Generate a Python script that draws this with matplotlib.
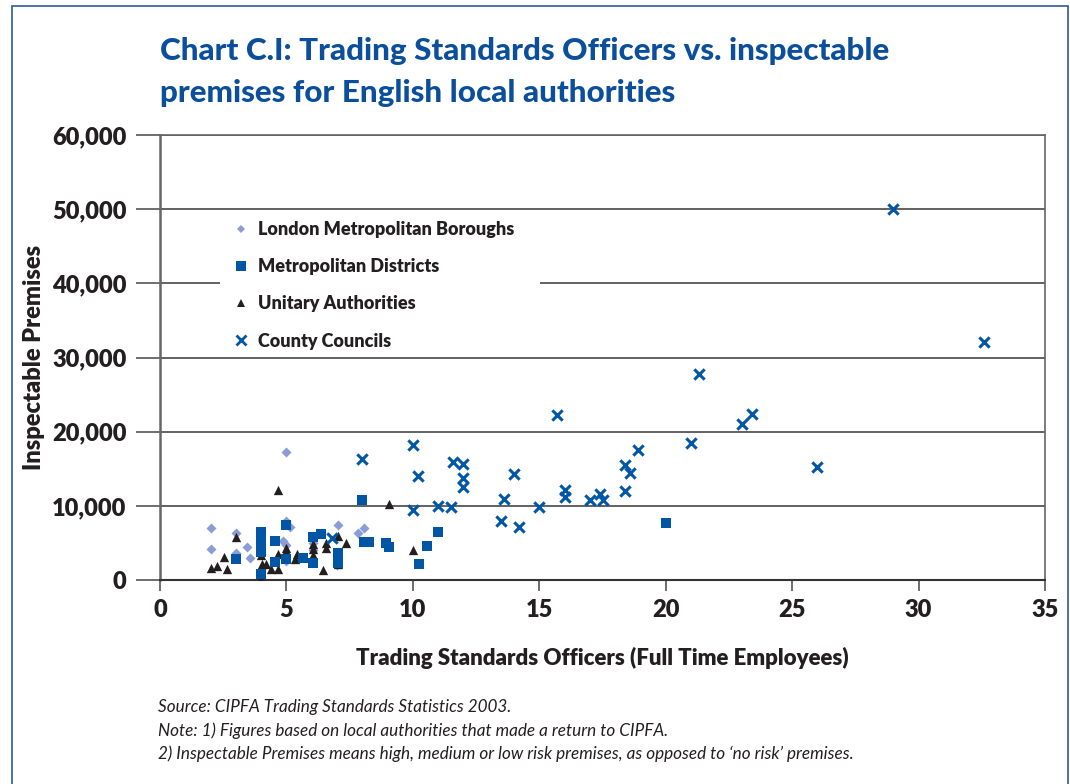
import matplotlib
matplotlib.use("Agg")
import matplotlib.pyplot as plt
from matplotlib.patches import Rectangle
from matplotlib.lines import Line2D

plt.rcParams['font.family'] = ['Lato', 'DejaVu Sans']

# London Metropolitan Boroughs
lon_x = [2.0, 2.0, 3.0, 3.0, 3.45, 3.55, 5.0, 5.0, 5.15, 4.85, 5.0, 5.0, 6.05, 6.05, 7.05, 7.85, 8.05, 4.0, 7.0]
lon_y = [6950, 4200, 6350, 3600, 4450, 3000, 17250, 7900, 7150, 5300, 4700, 2500, 4950, 4100, 7400, 6400, 6950, 3500, 2000]

# Metropolitan Districts
met_x = [4.0, 4.0, 4.0, 4.0, 4.0, 3.0, 4.55, 4.55, 5.0, 5.0, 5.65, 6.05, 6.35, 6.05, 7.05, 7.05,
         8.0, 8.05, 8.25, 8.95, 9.05, 10.55, 11.0, 10.25, 20.0]
met_y = [6500, 5700, 4300, 3800, 750, 2800, 5300, 2450, 7350, 2800, 2900, 5750, 6250, 2350, 3600, 2300,
         10800, 5150, 5150, 5050, 4500, 4600, 6500, 2200, 7700]

# Unitary Authorities
uni_x = [2.0, 2.25, 2.55, 2.65, 3.0, 4.0, 4.05, 4.2, 4.4, 4.65, 4.65, 4.65, 5.0, 5.0, 5.4, 5.35,
         6.05, 6.05, 6.05, 6.45, 6.55, 6.55, 7.05, 7.35, 7.05, 9.05, 10.0, 4.0, 5.0]
uni_y = [1600, 1950, 3050, 1550, 5750, 3400, 2150, 2150, 1450, 1450, 3500, 12150, 4250, 3850, 3550, 2800,
         4850, 4150, 3400, 1300, 5000, 4250, 5950, 5050, 2100, 10250, 4050, 300, 3000]

# County Councils
cc_x = [29.0, 32.6, 21.3, 23.4, 23.0, 21.0, 26.0, 15.7, 18.9, 18.4, 18.6, 18.4, 17.0, 17.4, 17.5,
        16.0, 16.0, 15.0, 14.2, 14.0, 13.6, 13.5, 12.0, 11.6, 12.0, 12.0, 11.5, 11.0, 10.0, 10.2,
        10.0, 8.0, 6.8]
cc_y = [50000, 32100, 27800, 22400, 21100, 18500, 15200, 22200, 17500, 15500, 14400, 12000, 10800, 11600, 10800,
        12200, 11200, 9800, 7150, 14300, 10900, 8000, 15700, 15900, 13700, 12600, 9850, 10000, 9500, 14000,
        18150, 16300, 5600]

x_ticks = [0, 5, 10, 15, 20, 25, 30, 35]
y_ticks = [0, 10000, 20000, 30000, 40000, 50000, 60000]

title_blue = '#0b4f9c'
dark = '#231f20'

fig = plt.figure(figsize=(10.7, 7.84), dpi=100)
ax = fig.add_axes([160/1070, 1-580/784, (1045-160)/1070, (580-135)/784])

ax.scatter(lon_x, lon_y, marker='D', s=26, color='#8a9dd6', linewidths=0, zorder=3,
           label='London Metropolitan Boroughs')
ax.scatter(uni_x, uni_y, marker='^', s=45, color=dark, linewidths=0, zorder=4,
           label='Unitary Authorities')
ax.scatter(met_x, met_y, marker='s', s=50, color='#0055a4', linewidths=0, zorder=5,
           label='Metropolitan Districts')
ax.scatter(cc_x, cc_y, marker='x', s=55, color='#0057a8', linewidths=2.2, zorder=6,
           label='County Councils')

ax.set_xlim(0, 35)
ax.set_ylim(0, 60000)
ax.set_xticks(x_ticks)
ax.set_yticks(y_ticks)
ax.set_xticklabels([str(v) for v in x_ticks])
ax.set_yticklabels([f'{v:,}' for v in y_ticks])
ax.tick_params(axis='y', length=17, width=1.2, color='#555555', pad=7, labelsize=17)
ax.tick_params(axis='x', length=8, width=1.2, color='#555555', pad=6, labelsize=17)
for lab in ax.get_xticklabels() + ax.get_yticklabels():
    lab.set_fontweight('heavy')
    lab.set_color(dark)

ax.grid(axis='y', color='#555555', linewidth=1.3, zorder=0)
ax.set_axisbelow(True)
for side in ['top', 'right']:
    ax.spines[side].set_color('#666666')
    ax.spines[side].set_linewidth(1.2)
ax.spines['left'].set_color('#666666')
ax.spines['left'].set_linewidth(1.8)
ax.spines['bottom'].set_color('#333333')
ax.spines['bottom'].set_linewidth(1.5)

ax.set_xlabel('Trading Standards Officers (Full Time Employees)', fontsize=16,
              fontweight='heavy', color=dark, labelpad=18)
ax.set_ylabel('Inspectable Premises', fontsize=17, fontweight='heavy', color=dark, labelpad=5)

# white panel behind the legend, hiding the 40,000 gridline
ax.add_patch(Rectangle((60/885, 228/445), 320/885, 138/445, transform=ax.transAxes,
                       facecolor='white', edgecolor='none', zorder=1.5))

handles = [
    Line2D([], [], marker='D', linestyle='', markersize=4, color='#8a9dd6', markeredgewidth=0),
    Line2D([], [], marker='s', linestyle='', markersize=6.5, color='#0055a4', markeredgewidth=0),
    Line2D([], [], marker='^', linestyle='', markersize=5.5, color=dark, markeredgewidth=0),
    Line2D([], [], marker='x', linestyle='', markersize=6.5, color='#0057a8', markeredgewidth=2),
]
labels = ['London Metropolitan Boroughs', 'Metropolitan Districts',
          'Unitary Authorities', 'County Councils']
leg = ax.legend(handles, labels, loc='upper left', bbox_to_anchor=(76/885, 359/445),
                frameon=False, prop={'weight': 'heavy', 'size': 13}, labelcolor=dark,
                handletextpad=0.6, labelspacing=1.12, borderpad=0, handlelength=0.6,
                borderaxespad=0)
leg.set_zorder(2)

fig.text(160/1070, 1-37/784,
         'Chart C.I: Trading Standards Officers vs. inspectable\npremises for English local authorities',
         ha='left', va='top', fontsize=22.6, fontweight='black', color=title_blue, linespacing=1.6)

notes = ['Source: CIPFA Trading Standards Statistics 2003.',
         'Note: 1) Figures based on local authorities that made a return to CIPFA.',
         "2) Inspectable Premises means high, medium or low risk premises, as opposed to \u2018no risk\u2019 premises."]
for i, t in enumerate(notes):
    fig.text(158/1070, 1-(707+i*23.5)/784, t, ha='left', va='center', fontsize=12.3,
             style='italic', color=dark)

fig.add_artist(Rectangle((12/1070, -0.01), (1068-12)/1070, 1.01-6/784, transform=fig.transFigure,
                         fill=False, edgecolor='#2a5a9e', linewidth=1.2))

fig.savefig('out.png', dpi=100)
